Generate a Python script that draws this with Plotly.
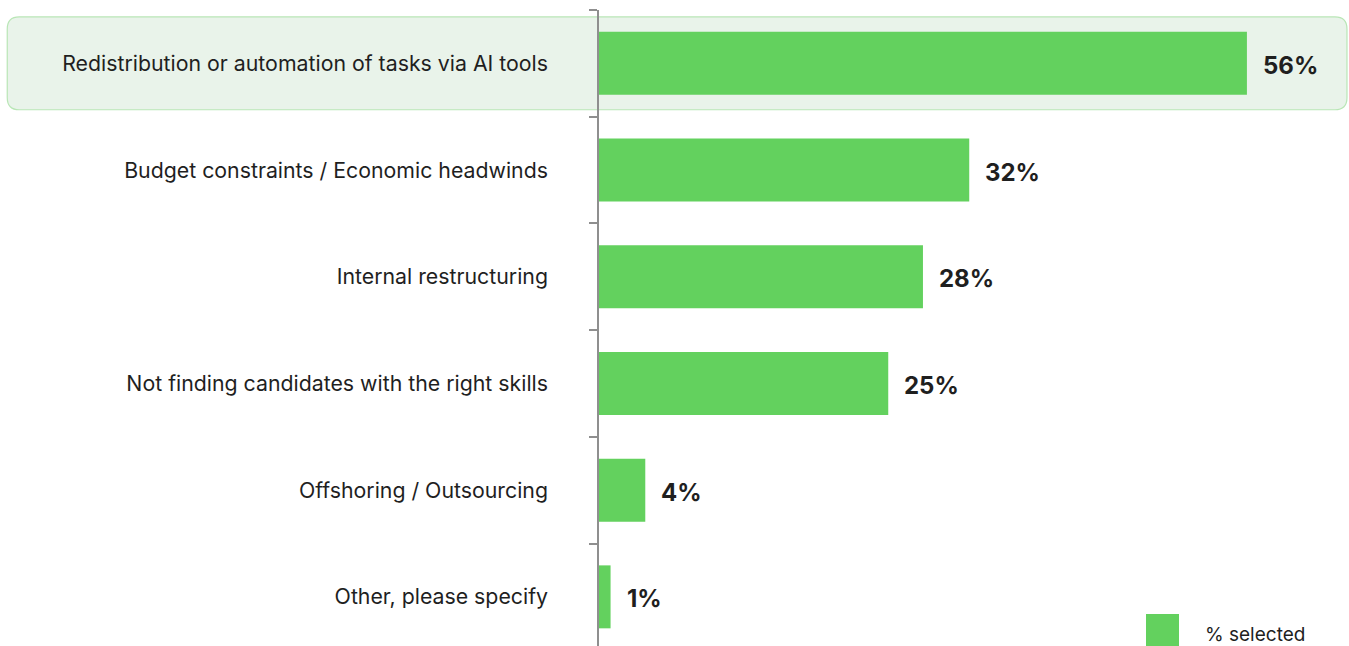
import plotly.graph_objects as go

# Survey results: reasons given for reducing headcount
categories = [
    "Redistribution or automation of tasks via AI tools",
    "Budget constraints / Economic headwinds",
    "Internal restructuring",
    "Not finding candidates with the right skills",
    "Offshoring / Outsourcing",
    "Other, please specify",
]
values = [56, 32, 28, 25, 4, 1]
series_name = "% selected"
highlight_category = categories[0]

BAR_GREEN = "#63d15e"
TEXT = "#1f1f1f"
FONT = "Inter"

W, H = 1349, 646
L_MARGIN, T_MARGIN = 599, 10
plot_w = W - L_MARGIN
plot_h = H - T_MARGIN
px_per_cat = 106.7
px_per_pct = 11.57

x_max = plot_w / px_per_pct
y_bottom = -0.5 + plot_h / px_per_cat

fig = go.Figure()
fig.add_trace(
    go.Bar(
        x=values,
        y=categories,
        orientation="h",
        name=series_name,
        marker=dict(color=BAR_GREEN, line=dict(width=0)),
        width=0.59,
        showlegend=False,
        hoverinfo="x+y",
    )
)

# value labels to the right of each bar
for cat, v in zip(categories, values):
    fig.add_annotation(
        x=v, y=cat, xref="x", yref="y",
        text=f"<b>{v}%</b>", showarrow=False,
        xanchor="left", yanchor="middle", xshift=14, yshift=-2,
        font=dict(family=FONT, size=24, color=TEXT),
    )

# rounded highlight band behind the top category
hi = categories.index(highlight_category)
y0, y1 = hi - 0.435, hi + 0.435
x0, x1 = -0.789, 0.9973
rx = 12 / plot_w
ry = 12 / px_per_cat
path = (
    f"M {x0+rx},{y0} L {x1-rx},{y0} Q {x1},{y0} {x1},{y0+ry} "
    f"L {x1},{y1-ry} Q {x1},{y1} {x1-rx},{y1} "
    f"L {x0+rx},{y1} Q {x0},{y1} {x0},{y1-ry} "
    f"L {x0},{y0+ry} Q {x0},{y0} {x0+rx},{y0} Z"
)
fig.add_shape(
    type="path", path=path, xref="paper", yref="y",
    fillcolor="#e9f3ea", line=dict(color="#b9e6b6", width=1.2),
    layer="below",
)

# legend: swatch + label
sw_x0 = (1146 - L_MARGIN) / plot_w
sw_x1 = (1179 - L_MARGIN) / plot_w
fig.add_shape(
    type="rect", xref="paper", yref="paper",
    x0=sw_x0, x1=sw_x1, y0=-0.01, y1=(H - 614) / plot_h,
    fillcolor=BAR_GREEN, line=dict(width=0),
)
fig.add_annotation(
    x=(1203 - L_MARGIN) / plot_w, y=(H - 634) / plot_h,
    xref="paper", yref="paper", text=series_name, showarrow=False,
    xanchor="left", yanchor="middle",
    font=dict(family=FONT, size=19, color=TEXT),
)

fig.update_xaxes(
    range=[0, x_max], visible=False, fixedrange=True,
)
fig.update_yaxes(
    categoryorder="array", categoryarray=categories,
    range=[y_bottom, -0.5],
    showline=True, linecolor="#8f8f8f", linewidth=1.5,
    ticks="outside", ticklen=8, tickcolor="#8f8f8f", tickwidth=1.5,
    tickson="boundaries", ticklabelstandoff=45,
    showgrid=False, zeroline=False,
    tickfont=dict(family=FONT, size=21.3, color=TEXT),
)

fig.update_layout(
    width=W, height=H,
    margin=dict(l=L_MARGIN, r=0, t=T_MARGIN, b=0, autoexpand=False),
    plot_bgcolor="white", paper_bgcolor="white",
    bargap=0.41,
)

fig.write_html("out.html", config={"displayModeBar": False})
